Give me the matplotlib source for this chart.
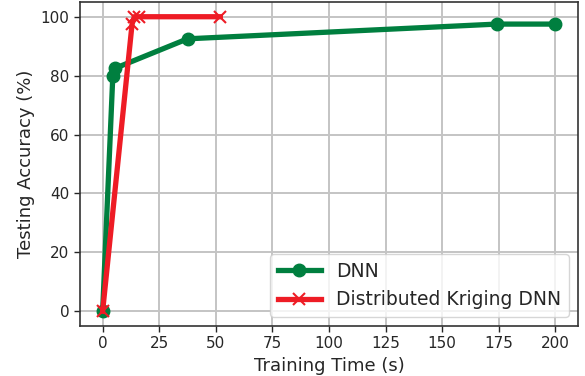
import matplotlib
matplotlib.use("Agg")
import matplotlib.pyplot as plt

dnn_time = [0, 4.5, 5.5, 37.5, 174, 200]
dnn_acc = [0, 80, 82.5, 92.5, 97.5, 97.5]
dk_time = [0, 13, 14, 16, 52]
dk_acc = [0, 97.5, 100, 100, 100]

plt.rcParams['font.family'] = ['DejaVu Sans']
plt.rcParams['text.color'] = '#262626'
plt.rcParams['axes.labelcolor'] = '#262626'
plt.rcParams['xtick.color'] = '#262626'
plt.rcParams['ytick.color'] = '#262626'

fig = plt.figure(figsize=(5.85, 3.76), dpi=100)
ax = fig.add_axes([80/585, 1-326/376, (578-80)/585, (326-2)/376])

ax.plot(dnn_time, dnn_acc, color='#007f3f', marker='o', lw=3.8, ms=9, label='DNN')
ax.plot(dk_time, dk_acc, color='#ee1c25', marker='x', lw=3.8, ms=9, mew=1.5, label='Distributed Kriging DNN')

ax.set_xticks([0, 25, 50, 75, 100, 125, 150, 175, 200])
ax.set_yticks([0, 20, 40, 60, 80, 100])
ax.grid(True, color='#c4c4c4', lw=1.4)
ax.set_axisbelow(True)
ax.tick_params(labelsize=11, length=4, width=1)
for s in ax.spines.values():
    s.set_color('#333333')
    s.set_linewidth(1.2)
ax.set_xlabel('Training Time (s)', fontsize=13)
ax.set_ylabel('Testing Accuracy (%)', fontsize=13)
ax.legend(loc='lower right', fontsize=13.5, fancybox=True, framealpha=0.8, handlelength=2.3)

fig.savefig('out.png', dpi=100)
